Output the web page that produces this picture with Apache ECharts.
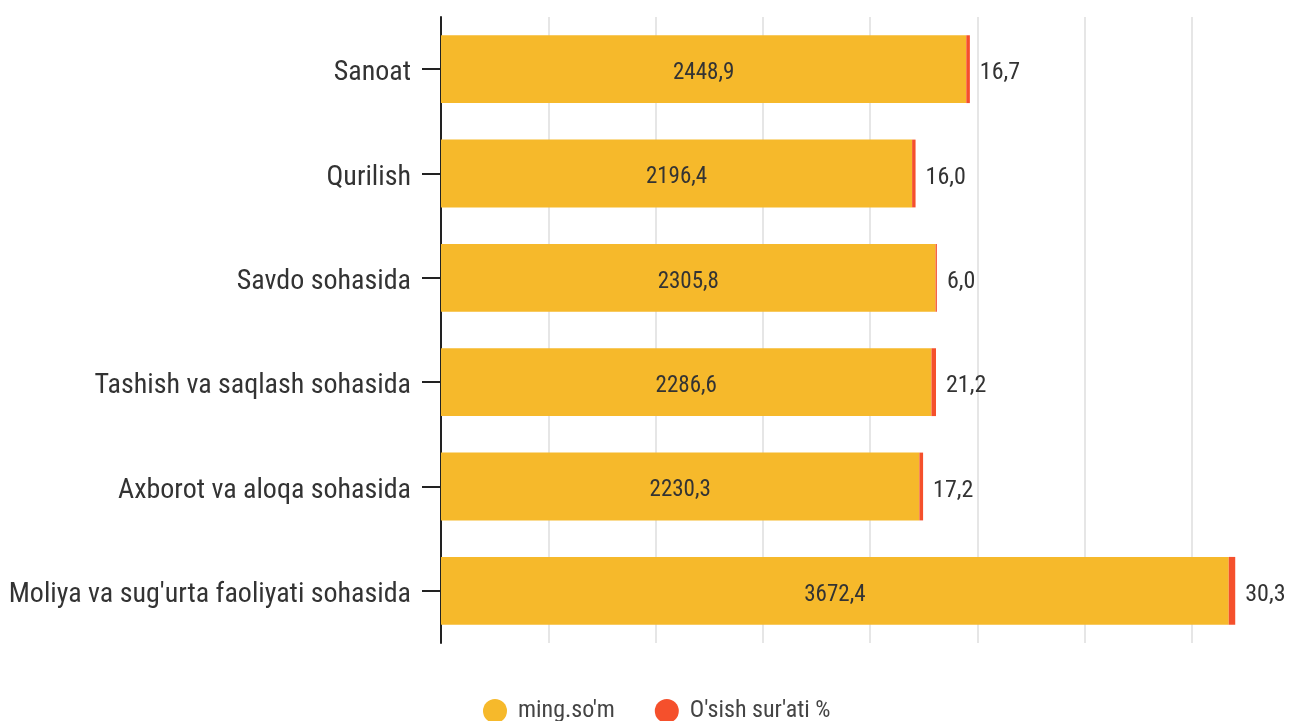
<!DOCTYPE html>
<html>
<head>
<meta charset="utf-8">
<script src="https://cdn.jsdelivr.net/npm/echarts@6/dist/echarts.min.js"></script>
<style>
  html, body { margin: 0; padding: 0; background: #ffffff; }
  #chart { width: 1292px; height: 721px; }
</style>
</head>
<body>
<div id="chart"></div>
<script>
// Sectors, listed top to bottom
const categories = [
  'Sanoat',
  'Qurilish',
  'Savdo sohasida',
  'Tashish va saqlash sohasida',
  'Axborot va aloqa sohasida',
  "Moliya va sug'urta faoliyati sohasida"
];
// Average monthly wage, thousand so'm
const wageValues = [2448.9, 2196.4, 2305.8, 2286.6, 2230.3, 3672.4];
// Growth rate, %
const growthValues = [16.7, 16.0, 6.0, 21.2, 17.2, 30.3];
const seriesNames = ["ming.so'm", "O'sish sur'ati %"];

const FONT = "'Roboto Condensed', 'Liberation Sans Narrow', Roboto, sans-serif";
const fmt = v => v.toFixed(1).replace('.', ',');

const chart = echarts.init(document.getElementById('chart'), null, { renderer: 'canvas' });
chart.setOption({
  animation: false,
  textStyle: { fontFamily: FONT },
  color: ['#F6B92B', '#F5502C'],
  grid: { left: 441, top: 17, bottom: 78, right: -7, containLabel: false, outerBoundsMode: 'none' },
  legend: {
    bottom: -7,
    left: 478,
    icon: 'circle',
    itemWidth: 24,
    itemHeight: 24,
    itemGap: 40,
    textStyle: { fontFamily: FONT, fontSize: 24, color: '#444', padding: [0, 0, 0, 6] },
    data: seriesNames
  },
  xAxis: {
    type: 'value',
    min: 0,
    max: 4000,
    interval: 500,
    axisLabel: { show: false },
    axisLine: { show: false },
    axisTick: { show: false },
    splitLine: { show: true, lineStyle: { color: '#e6e6e6', width: 2 } }
  },
  yAxis: {
    type: 'category',
    inverse: true,
    data: categories,
    axisLine: { show: true, lineStyle: { color: '#222', width: 2 } },
    axisTick: { show: true, length: 19, alignWithLabel: true, lineStyle: { color: '#222', width: 2 } },
    axisLabel: {
      margin: 30,
      formatter: v => '{t|' + v + '}',
      rich: {
        t: { fontFamily: FONT, fontSize: 28, color: '#333', padding: [8, 0, 0, 0] }
      }
    }
  },
  series: [
    {
      name: seriesNames[0],
      type: 'bar',
      stack: 'total',
      barCategoryGap: '35%',
      data: wageValues,
      label: {
        show: true,
        position: 'inside',
        offset: [0, 4],
        formatter: p => fmt(p.value),
        fontFamily: FONT,
        fontSize: 23,
        color: '#333'
      }
    },
    {
      name: seriesNames[1],
      type: 'bar',
      stack: 'total',
      data: growthValues,
      label: {
        show: true,
        position: 'right',
        distance: 10,
        offset: [0, 4],
        formatter: p => fmt(p.value),
        fontFamily: FONT,
        fontSize: 24,
        color: '#333'
      }
    }
  ]
});
</script>
</body>
</html>
